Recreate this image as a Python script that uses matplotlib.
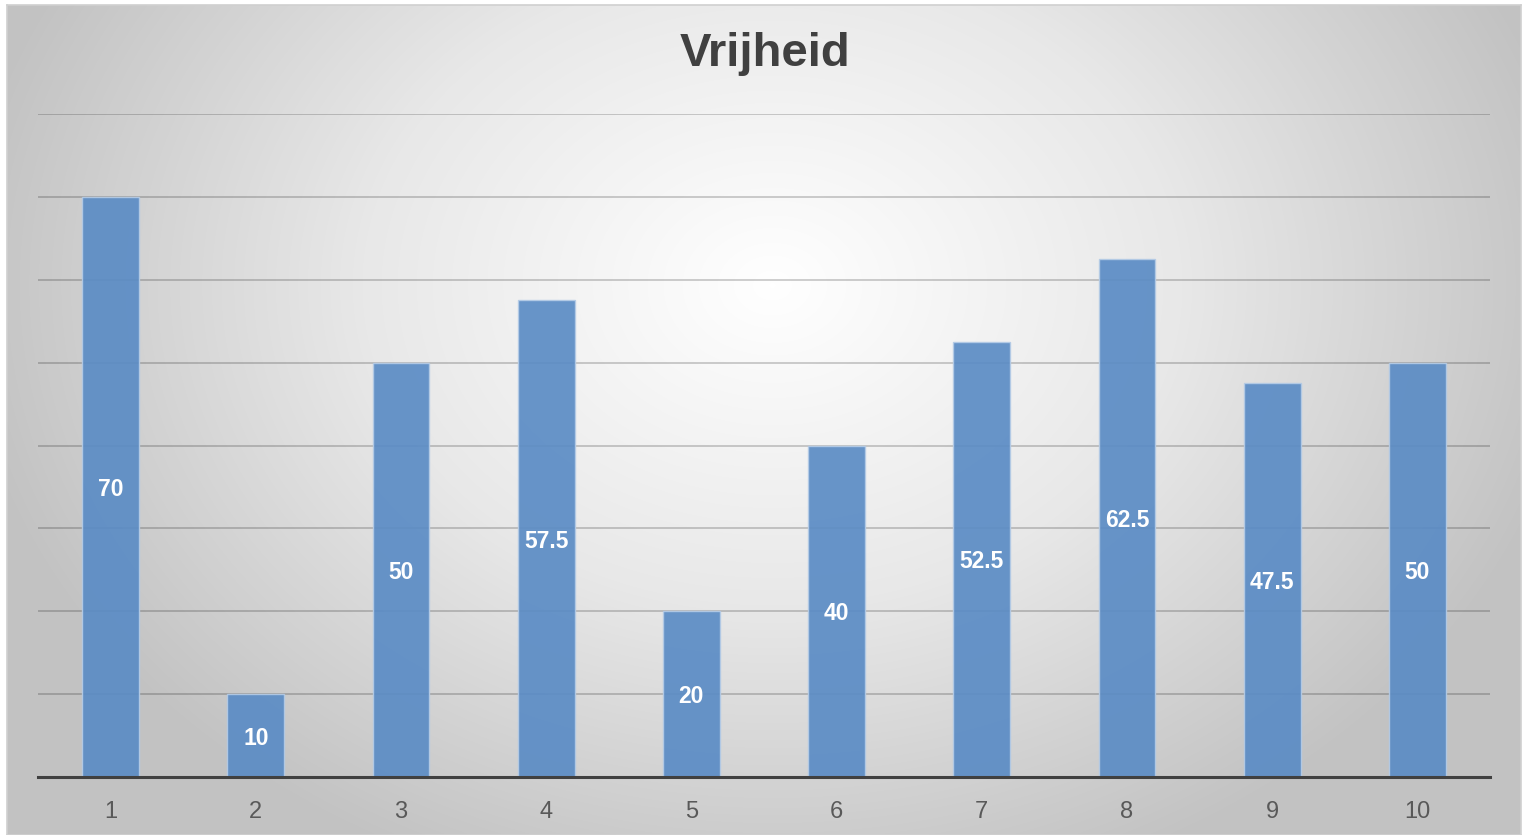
import numpy as np
import matplotlib.pyplot as plt
from matplotlib.colors import LinearSegmentedColormap

categories = ['1', '2', '3', '4', '5', '6', '7', '8', '9', '10']
values = [70, 10, 50, 57.5, 20, 40, 52.5, 62.5, 47.5, 50]
labels = ['70', '10', '50', '57.5', '20', '40', '52.5', '62.5', '47.5', '50']

plt.rcParams['font.family'] = ['Liberation Sans', 'DejaVu Sans']

fig = plt.figure(figsize=(15.23, 8.35), dpi=100)

# background radial gradient (white centre, grey edges)
bg = fig.add_axes([7 / 1523, 0, 1514 / 1523, 830 / 835])
h, w = 830, 1514
yy, xx = np.mgrid[0:h, 0:w]
cx, cy = 765, 280
r = np.sqrt(((xx - cx) / 820.0) ** 2 + ((yy - cy) / 640.0) ** 2)
r = np.clip(r, 0, 1)
cmap = LinearSegmentedColormap.from_list('bg', ['#ffffff', '#e8e8e8', '#c2c2c2'])
bg.imshow(r, cmap=cmap, vmin=0, vmax=1, aspect='auto', extent=[0, w, h, 0])
bg.set_xticks([])
bg.set_yticks([])
for s in bg.spines.values():
    s.set_color('#d0d0d0')
    s.set_linewidth(1.2)

ax = fig.add_axes([38 / 1523, 1 - 777 / 835, 1452 / 1523, (777 - 114) / 835])
ax.patch.set_alpha(0)
x = np.arange(len(categories))
bars = ax.bar(x, values, width=0.39, color='#5b8cc5', edgecolor='#b4cbe6',
              linewidth=1.0, alpha=0.92, zorder=3)
for xi, v, lab in zip(x, values, labels):
    ax.text(xi, v / 2, lab, ha='center', va='center_baseline', color='white',
            fontsize=16.5, fontweight='bold', zorder=4)

ax.set_xlim(-0.5, len(categories) - 0.5)
ax.set_ylim(0, 80)
ax.set_yticks(np.arange(10, 81, 10))
ax.yaxis.grid(True, color='black', alpha=0.22, linewidth=1.2, zorder=0)
ax.tick_params(axis='y', left=False, labelleft=False)
ax.set_xticks(x)
ax.set_xticklabels(categories, fontsize=17, color='#595959')
ax.tick_params(axis='x', length=0, pad=17)
for side in ['top', 'right', 'left']:
    ax.spines[side].set_visible(False)
ax.spines['bottom'].set_color('#404040')
ax.spines['bottom'].set_linewidth(2.2)
ax.spines['bottom'].set_zorder(5)

fig.text(765 / 1523, 1 - 54 / 835, 'Vrijheid', ha='center', va='center',
         fontsize=34, fontweight='bold', color='#404040')

fig.savefig('out.png', dpi=100)
